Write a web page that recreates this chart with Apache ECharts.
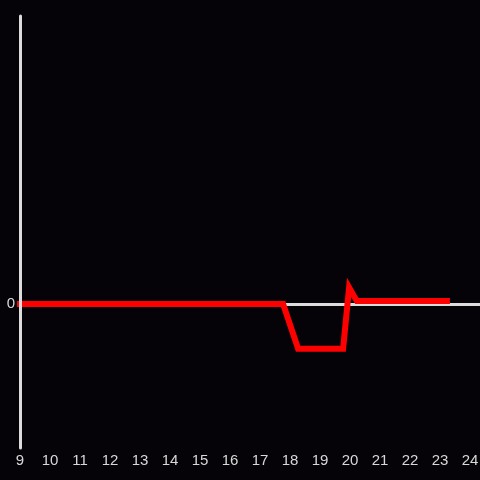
<!DOCTYPE html>
<html>
<head>
<meta charset="utf-8">
<script src="https://cdn.jsdelivr.net/npm/echarts@6/dist/echarts.min.js"></script>
<style>
  html, body { margin: 0; padding: 0; background: #050308; }
  #chart { width: 480px; height: 480px; }
</style>
</head>
<body>
<div id="chart"></div>
<script>
// x positions (hours) and values of the red trace
const hours = [9, 17.77, 18.27, 19.77, 19.97, 20.23, 23.23];
const values = [0, 0, -0.31, -0.31, 0.115, 0.02, 0.02];
const yLabels = [0];

const chart = echarts.init(document.getElementById('chart'));

const option = {
  backgroundColor: '#050308',
  animation: false,
  grid: { left: 20, right: 0, top: 16, bottom: 32, outerBoundsMode: 'none' },
  xAxis: {
    type: 'value',
    min: 9,
    max: 24.333,
    interval: 1,
    axisLine: { show: false },
    axisTick: { show: false },
    splitLine: { show: false },
    axisLabel: {
      color: '#d8d8d8',
      fontSize: 15,
      fontFamily: 'Liberation Sans',
      margin: 5,
      formatter: v => (Number.isInteger(v) ? String(v) : '')
    }
  },
  yAxis: {
    type: 'value',
    min: -1,
    max: 2,
    z: 10,
    axisLine: { show: true, onZero: false, lineStyle: { color: '#dcdcdc', width: 3 } },
    axisTick: { show: false },
    splitLine: { show: false },
    axisLabel: {
      color: '#d8d8d8',
      fontSize: 15,
      fontFamily: 'Liberation Sans',
      margin: 5,
      customValues: yLabels
    }
  },
  series: [
    {
      type: 'line',
      data: hours.map((h, i) => [h, values[i]]),
      showSymbol: false,
      z: 3,
      lineStyle: { color: '#ff0000', width: 6, cap: 'square', join: 'miter' },
      markLine: {
        silent: true,
        z: 1,
        symbol: ['none', 'none'],
        label: { show: false },
        lineStyle: { color: '#dcdcdc', width: 3, type: 'solid' },
        data: [{ yAxis: 0 }]
      }
    }
  ]
};

chart.setOption(option);
</script>
</body>
</html>
